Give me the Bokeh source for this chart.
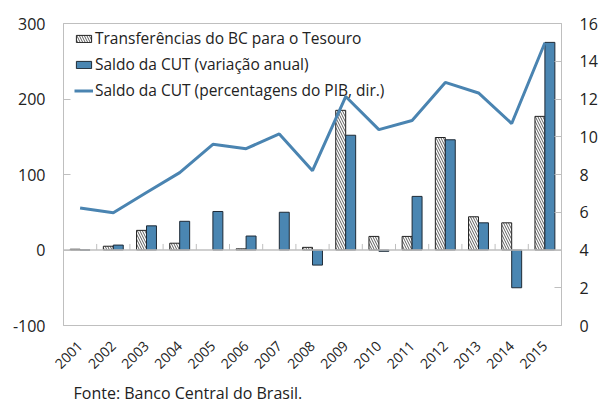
from math import pi
from bokeh.plotting import figure
from bokeh.models import (ColumnDataSource, Range1d, LinearAxis, FixedTicker,
                          Span, Legend, LegendItem, Title)
from bokeh.embed import file_html
from bokeh.resources import INLINE

years = ["2001", "2002", "2003", "2004", "2005", "2006", "2007", "2008",
         "2009", "2010", "2011", "2012", "2013", "2014", "2015"]
transferencias = [1, 5, 26, 9, 0, 1.5, 0, 3.5, 185, 18, 18, 149, 44, 36, 177]
saldo_cut_var = [0, 6.5, 32, 38, 51, 18.5, 50, -20, 152, -1.7, 71, 146, 36, -50, 275]
saldo_cut_pib = [6.23, 5.97, 7.05, 8.1, 9.6, 9.37, 10.15, 8.2, 12.13, 10.38,
                 10.86, 12.88, 12.32, 10.7, 14.98]
left_ticks = [-100, 0, 100, 200, 300]
right_ticks = [0, 2, 4, 6, 8, 10, 12, 14, 16]

FONT = "Open Sans"
GRAY = "#bfbfbf"
BLUE = "#4a86b2"
LINE = "#4a84b1"

x = list(range(1, len(years) + 1))
bw = 0.3
src = ColumnDataSource(dict(
    x=x,
    xl=[v - bw / 2 for v in x],
    xr=[v + bw / 2 for v in x],
    t=transferencias,
    s=saldo_cut_var,
    pib=saldo_cut_pib,
    t_line=[0.0 if v == 0 else 1.0 for v in transferencias],
))

p = figure(width=600, height=410, output_backend="svg", toolbar_location=None,
           x_range=Range1d(0.5, len(years) + 0.5), y_range=Range1d(-100, 300),
           min_border_left=63, min_border_right=38, min_border_top=23,
           min_border_bottom=85, x_axis_type=None, y_axis_type=None)
p.outline_line_color = GRAY
p.outline_line_width = 1
p.xgrid.visible = False
p.ygrid.visible = False
p.extra_y_ranges = {"pct": Range1d(0, 16)}

# zero line and category separators
p.add_layout(Span(location=0, dimension="width", line_color=GRAY, line_width=1.5))
bounds = [v + 0.5 for v in x[:-1]]
p.segment(x0=bounds, y0=[0] * len(bounds), x1=bounds, y1=[8] * len(bounds),
          line_color=GRAY, line_width=1)

r_t = p.vbar(x="xl", top="t", bottom=0, width=bw, source=src, fill_color="white",
             line_color="#222222", line_alpha="t_line", line_width=1,
             hatch_pattern="left_diagonal_line", hatch_color="#333333",
             hatch_scale=5, hatch_weight=0.8)
r_s = p.vbar(x="xr", top="s", bottom=0, width=bw, source=src, fill_color=BLUE,
             line_color="#1e2a36", line_width=1)
r_l = p.line(x="x", y="pib", source=src, y_range_name="pct", line_color=LINE,
             line_width=3)

# axes
left = LinearAxis(ticker=FixedTicker(ticks=left_ticks),
                  major_label_overrides={v: str(v) for v in left_ticks})
right = LinearAxis(y_range_name="pct", ticker=FixedTicker(ticks=right_ticks))
for ax in (left, right):
    ax.axis_line_color = GRAY
    ax.major_tick_line_color = GRAY
    ax.major_tick_in = 7
    ax.major_tick_out = 0
    ax.minor_tick_line_color = None
    ax.major_label_text_font = FONT
    ax.major_label_text_font_size = "16px"
    ax.major_label_text_color = "#222222"
    ax.major_label_standoff = 18
p.add_layout(left, "left")
p.add_layout(right, "right")

bottom = LinearAxis(ticker=FixedTicker(ticks=x),
                    major_label_overrides={i: y for i, y in zip(x, years)})
bottom.axis_line_color = None
bottom.major_tick_line_color = None
bottom.minor_tick_line_color = None
bottom.major_label_orientation = pi / 4
bottom.major_label_text_font = FONT
bottom.major_label_text_font_size = "14px"
bottom.major_label_text_color = "#222222"
bottom.major_label_standoff = 12
p.add_layout(bottom, "below")

legend = Legend(items=[
    LegendItem(label="Transferências do BC para o Tesouro", renderers=[r_t]),
    LegendItem(label="Saldo da CUT (variação anual)", renderers=[r_s]),
    LegendItem(label="Saldo da CUT (percentagens do PIB, dir.)", renderers=[r_l]),
], location=(11, 224))
legend.border_line_color = None
legend.background_fill_alpha = 0
legend.padding = 0
legend.margin = 0
legend.spacing = 4
legend.label_height = 20
legend.glyph_width = 19
legend.glyph_height = 9
legend.label_standoff = 2
legend.label_text_font = FONT
legend.label_text_font_size = "15.5px"
legend.label_text_color = "#222222"
p.add_layout(legend, "center")

p.add_layout(Title(text="Fonte: Banco Central do Brasil.", align="left",
                   text_font=FONT, text_font_size="16px", text_font_style="normal",
                   text_color="#222222", offset=10, standoff=6,
                   text_line_height=1.0), "below")

open("out.html", "w").write(file_html(p, INLINE))
